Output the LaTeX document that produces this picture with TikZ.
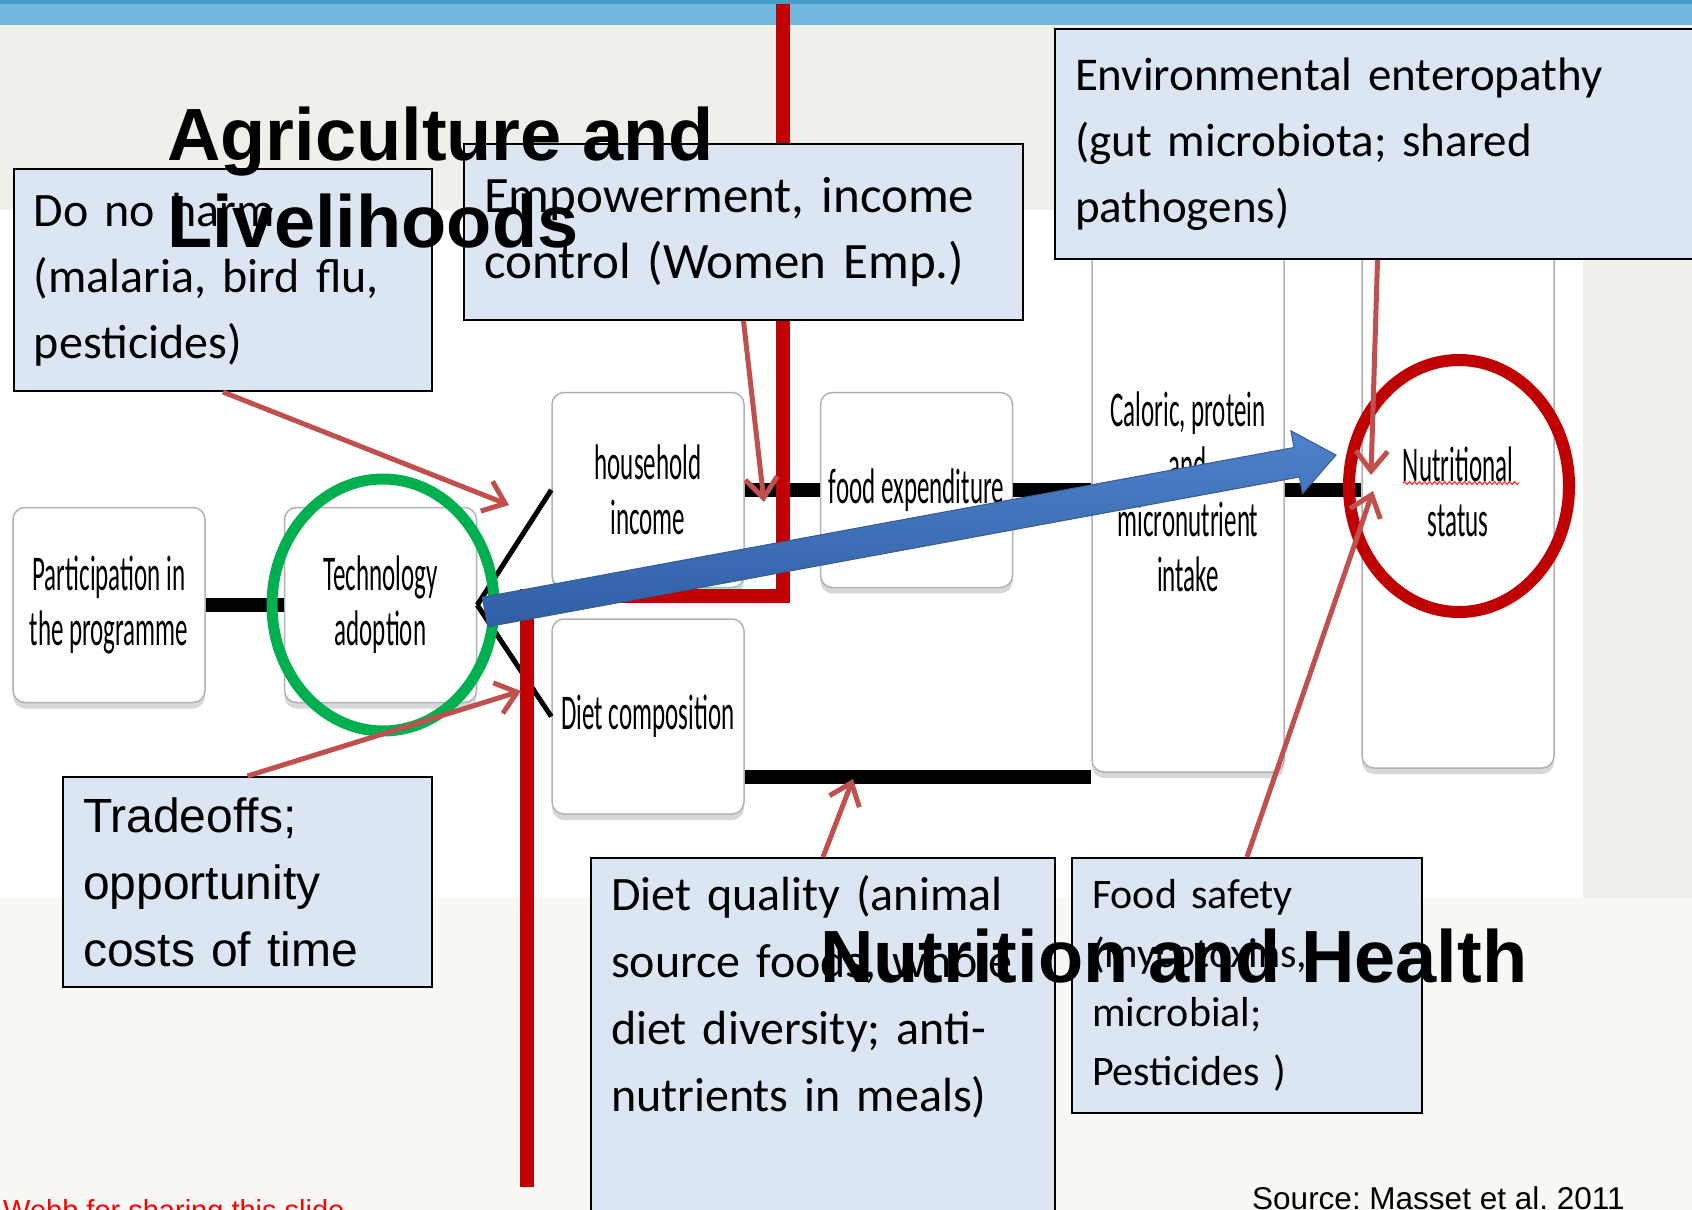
\documentclass[tikz,border=0pt]{standalone}
\usepackage{fontspec}
\setmainfont{Carlito}
\newfontfamily\arialfont{Liberation Sans}
\newfontfamily\narrowfont[FakeStretch=0.5]{Carlito}
\usetikzlibrary{positioning,shapes.geometric,arrows.meta,calc,shadows,decorations.pathmorphing}
\frenchspacing

\definecolor{slideblue}{HTML}{70B8DD}
\definecolor{slidebluedark}{HTML}{4A9CC8}
\definecolor{bgbeige}{HTML}{F0EFE9}
\definecolor{bgpale}{HTML}{F9F8F5}
\definecolor{calloutfill}{HTML}{DCE6F2}
\definecolor{barred}{HTML}{C00000}
\definecolor{linkred}{HTML}{C0504D}
\definecolor{ringgreen}{HTML}{00B050}
\definecolor{arrowtop}{HTML}{4F82CC}
\definecolor{arrowbot}{HTML}{2F5FA5}
\definecolor{arrowedge}{HTML}{385D8A}

\begin{document}
\begin{tikzpicture}[x=1pt, y=-1pt,
stepbox/.style={rectangle, rounded corners=12pt, draw=black!30, line width=1.5pt, fill=white,
  drop shadow={opacity=0.3, shadow xshift=0pt, shadow yshift=-6pt},
  minimum width=192pt, minimum height=195pt, inner sep=0pt, align=center,
  font=\narrowfont\fontsize{50}{55}\selectfont},
notebox/.style={rectangle, draw=black, line width=2pt, fill=calloutfill, align=left, inner xsep=20pt, inner ysep=0pt},
flow/.style={line width=14pt},
branch/.style={line width=5pt},
redbar/.style={barred, line width=14pt},
ring/.style={ellipse, draw=#1, line width=11pt, inner sep=0pt},
pointer/.style={linkred, line width=5pt, -{Straight Barb[length=20pt, width=32pt]}},
headline/.style={font=\arialfont\bfseries\fontsize{74}{86}\selectfont, inner sep=0pt, anchor=base west},
]
\useasboundingbox (0,0) rectangle (1692,1210);
\clip (0,0) rectangle (1692,1210);

\fill[bgbeige] (0,0) rectangle (1692,1210);
\fill[bgpale] (0,898) rectangle (1692,1210);
\fill[white] (0,210) rectangle (1583,898);
\fill[slideblue] (0,0) rectangle (1692,25);
\fill[slidebluedark] (0,0) rectangle (1692,4);

\node[stepbox] (part) at (109,605) {Participation in\\the programme};
\node[stepbox, right=78pt of part] (tech) {Technology\\adoption};
\node[stepbox] (hhinc) at (648,490) {household\\income};
\node[stepbox, below=30pt of hhinc] (dietcomp) {Diet composition};
\node[stepbox, right=75pt of hhinc] (foodexp) {food expenditure};
\node[stepbox, minimum height=560pt] (intake) at (1188,492) {Caloric, protein\\and\\micronutrient\\intake};
\node[stepbox, minimum height=552pt] (nutstat) at (1458,492) {Nutritional\\status};
\draw[red!80, line width=1.2pt, decorate, decoration={snake, amplitude=1.5pt, segment length=5pt}]
  (1403,483) -- (1519,483);

\coordinate (dietlvl) at (0,777);
\draw[flow] (part) -- (tech);
\draw[branch] (tech.east) -- (hhinc.west);
\draw[branch] (tech.east) -- (dietcomp.west);
\draw[flow] (hhinc) -- (foodexp);
\draw[flow] (foodexp.east) -- (intake.west |- foodexp.east);
\draw[flow] (intake.east |- foodexp.east) -- (nutstat.west |- foodexp.east);
\draw[flow] (dietcomp.east |- dietlvl) -- (intake.west |- dietlvl);

\coordinate (bartop) at (783,4);
\coordinate (barbend) at (783,596);
\coordinate (barfoot) at (527,1187);
\draw[redbar] (bartop) -- (barbend) -| (barfoot);

\node[ring=ringgreen, minimum width=222pt, minimum height=252pt] (techring) at (383,605) {};
\node[ring=barred, line width=12pt, minimum width=220pt, minimum height=252pt] (nutring) at (1459,486) {};

\coordinate (arrowtail) at (485,612);
\coordinate (arrowtip) at (1336,455);
\coordinate (arrowneck) at ($(arrowtip)!40pt!(arrowtail)$);
\shadedraw[top color=arrowtop, bottom color=arrowbot, draw=arrowedge, line width=1pt]
  ($(arrowtail)!15pt!90:(arrowtip)$) -- ($(arrowneck)!15pt!90:(arrowtip)$)
  -- ($(arrowneck)!32pt!90:(arrowtip)$) -- (arrowtip)
  -- ($(arrowneck)!32pt!-90:(arrowtip)$) -- ($(arrowneck)!15pt!-90:(arrowtip)$)
  -- ($(arrowtail)!15pt!-90:(arrowtip)$) -- cycle;

\node[notebox, text width=378pt, minimum height=222pt, font=\fontsize{48}{66}\selectfont] (harm) at (223,280)
  {Do no harm\\(malaria, bird flu,\\pesticides)};
\node[notebox, text width=519pt, minimum height=176pt, font=\fontsize{51}{66}\selectfont] (empower) at (743.5,232)
  {Empowerment, income\\control (Women Emp.)};
\node[notebox, text width=605pt, minimum height=230pt, font=\fontsize{47}{66}\selectfont] (entero) at (1377.5,144)
  {Environmental enteropathy\\(gut microbiota; shared\\pathogens)};
\node[notebox, text width=329pt, minimum height=210pt, font=\arialfont\fontsize{48}{67}\selectfont] (tradeoff) at (247.5,882)
  {Tradeoffs;\\opportunity\\costs of time};
\node[notebox, text width=424pt, minimum height=357pt, font=\fontsize{48}{67}\selectfont] (dietq) at (823,1036.5)
  {Diet quality (animal\\source foods, whole\\diet diversity; anti-\\nutrients in meals)\\\strut};
\node[notebox, text width=310pt, minimum height=255pt, font=\fontsize{42}{59}\selectfont] (safety) at (1247,985.5)
  {Food safety\\(mycotoxins,\\microbial;\\Pesticides )};

\coordinate (harmtip) at (509,505);
\coordinate (empowertip) at (764,502);
\coordinate (tradetip) at (521,691);
\coordinate (diettip) at (853,779);
\coordinate (enterotip) at (1371,475);
\coordinate (safetytip) at (1373,491);
\draw[pointer] (harm.south) -- (harmtip);
\draw[pointer] (empower.south) -- (empowertip);
\draw[pointer] (tradeoff.north) -- (tradetip);
\draw[pointer] (dietq.north) -- (diettip);
\draw[pointer] (entero.south) -- (enterotip);
\draw[pointer] (safety.north) -- (safetytip);

\node[headline] (agtitle) at (167,160) {Agriculture and};
\node[headline] (livtitle) at (167,247) {Livelihoods};
\node[headline] (nhtitle) at (820,982) {Nutrition and Health};

\node[anchor=base west, inner sep=0pt, font=\arialfont\fontsize{31.5}{36}\selectfont] (source) at (1252,1209) {Source: Masset et al. 2011};
\node[anchor=base west, inner sep=0pt, text=red, font=\arialfont\fontsize{29}{34}\selectfont] (credit) at (3,1220) {Webb for sharing this slide};
\end{tikzpicture}
\end{document}
